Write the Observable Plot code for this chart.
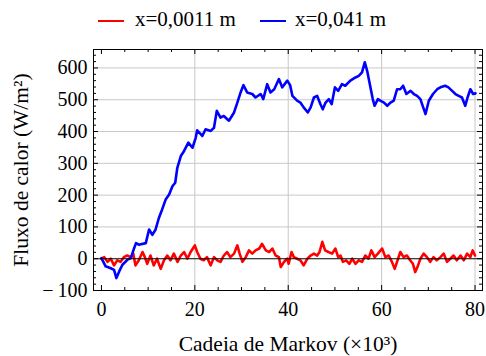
<!DOCTYPE html>
<html>
<head>
<meta charset="utf-8">
<script src="https://cdn.jsdelivr.net/npm/d3@7"></script>
<script src="https://cdn.jsdelivr.net/npm/@observablehq/plot@0.6"></script>
<style>
  html, body { margin: 0; padding: 0; background: #fff; }
  #wrap { width: 486px; font-family: "Liberation Serif", "DejaVu Serif", serif; }
  #legend { position: relative; width: 486px; height: 40px; }
  .sw { position: absolute; height: 1.5px; top: 20px; width: 26px; }
  .lt { position: absolute; top: 9px; font-size: 21px; line-height: 21px; white-space: nowrap; color: #000; font-family: "Liberation Serif", "DejaVu Serif", serif; }
  #chart svg, #chart svg text { font-family: "Liberation Serif", "DejaVu Serif", serif; }
</style>
</head>
<body>
<div id="wrap">
  <div id="legend"></div>
  <div id="chart"></div>
</div>
<script>
// Series labels and colours
const seriesNames = ["x=0,0011 m", "x=0,041 m"];
const seriesColors = ["#ff0000", "#0000ff"];

// Red series: x = 0,0011 m  (Markov chain index ×10³, heat flux W/m²)
const redX = [0,0.6,1.3,2.0,2.7,3.4,4.1,4.8,5.5,6.3,6.8,7.3,8.0,8.8,9.3,9.8,10.5,11.2,11.9,12.7,13.4,14.1,14.8,15.5,16.3,17.0,17.7,18.4,19.1,20.0,20.5,21.2,21.9,22.6,23.4,24.1,24.8,25.5,26.2,26.9,27.6,28.4,29.1,29.6,30.2,30.9,31.6,32.3,33.0,33.8,34.4,35.2,35.9,36.6,37.3,38.0,38.4,39.1,39.4,39.8,40.1,40.7,41.2,41.9,42.6,43.3,44.1,44.8,45.5,46.2,46.7,47.3,47.9,48.6,49.4,50.1,50.7,51.2,51.7,52.4,53.1,53.7,54.4,55.1,55.8,56.5,57.2,57.8,58.5,59.2,60.1,60.8,61.5,62.2,62.8,63.3,64.0,64.7,65.4,66.1,66.7,67.2,67.8,68.3,69.0,69.7,70.4,71.1,71.8,72.6,73.3,74.0,74.7,75.4,76.1,76.9,77.6,78.3,79.0,79.5,80.0];
const redY = [0,5,-10,0,-21,-5,-10,5,10,5,16,-21,-5,21,5,-16,10,-21,0,-32,-5,10,-5,16,-10,10,21,0,21,42,21,0,-5,5,-21,5,-5,-10,10,21,5,16,42,16,-10,5,26,16,26,32,47,26,21,32,10,5,-26,-10,-5,0,-16,21,5,0,-5,-21,0,10,16,10,21,53,26,21,16,32,5,10,-10,-5,-16,0,-16,-5,-10,10,0,26,5,16,32,5,10,-10,-32,-10,21,5,10,-5,-16,-42,-21,0,16,5,-10,5,-5,5,16,-10,0,10,-5,10,-5,16,5,26,10];

// Blue series: x = 0,041 m
const blueX = [0,0.9,2.0,2.7,3.2,3.8,4.5,5.6,6.3,7.0,7.4,8.0,9.5,10.2,10.9,11.6,12.3,13.0,13.75,14.5,15.2,15.8,16.25,17.0,17.7,18.6,19.5,20.2,20.5,21.6,22.3,23.4,24.1,24.7,25.5,26.2,27.3,28.4,29.1,29.8,30.4,31.2,32.3,33.0,34.1,34.65,35.5,36.2,37.0,38.0,38.7,39.8,40.4,40.9,41.9,42.6,43.3,44.2,44.8,45.5,46.2,46.9,47.4,48.0,48.7,49.3,50.0,50.7,51.5,52.2,53.3,54.4,55.1,55.8,56.4,56.9,57.4,58.1,58.5,59.2,59.7,60.5,61.2,61.9,62.6,63.3,64.0,64.6,65.3,66.2,66.9,67.6,68.3,68.9,69.4,70.1,71.0,71.9,72.6,73.6,74.3,75.1,75.8,76.5,77.2,77.9,78.4,79.0,79.6,80.1];
const blueY = [2,-24,-30,-35,-61,-40,-19,-3,2,33,49,44,49,92,75,92,128,155,186,202,228,239,286,323,339,365,349,381,404,386,407,402,412,465,444,449,434,460,491,523,546,523,518,507,518,502,549,523,533,565,539,560,546,512,497,491,476,460,476,507,512,486,470,491,502,486,539,528,549,544,560,570,575,586,618,591,554,502,481,502,497,491,481,491,497,533,533,544,518,528,518,512,502,476,455,497,518,533,539,544,539,528,518,512,507,481,507,533,518,520];

// Axis ticks
const xMajor = [0, 20, 40, 60, 80];
const xMinor = d3.range(0, 81, 5).filter(d => d % 20 !== 0);
const yMajor = [-100, 0, 100, 200, 300, 400, 500, 600];
const yMinor = d3.range(-100, 659, 20).filter(d => d % 100 !== 0);
const xGrid = [20, 40, 60, 80];
const yGrid = [100, 200, 300, 400, 500, 600];

const xLabel = "Cadeia de Markov (×10³)";
const yLabel = "Fluxo de calor (W/m²)";

// Legend (HTML, above the SVG)
const legend = document.getElementById("legend");
const legendPos = [{sw: 98, tx: 135}, {sw: 260, tx: 295}];
seriesNames.forEach((name, i) => {
  const s = document.createElement("div");
  s.className = "sw";
  s.style.left = legendPos[i].sw + "px";
  s.style.background = seriesColors[i];
  legend.appendChild(s);
  const t = document.createElement("div");
  t.className = "lt";
  t.style.left = legendPos[i].tx + "px";
  t.textContent = name;
  legend.appendChild(t);
});

const red = redX.map((x, i) => ({x, y: redY[i]}));
const blue = blueX.map((x, i) => ({x, y: blueY[i]}));

const W = 389, H = 241;
const FF = "Liberation Serif, DejaVu Serif, serif";

const chart = Plot.plot({
  width: 486,
  height: 316,
  marginLeft: 93,
  marginRight: 4,
  marginTop: 9,
  marginBottom: 66,
  style: {fontFamily: FF, fontSize: "20px", background: "#fff", color: "#000"},
  x: {domain: [-1.7, 81.6]},
  y: {domain: [-100, 658]},
  marks: [
    Plot.ruleX(xGrid, {stroke: "#c8c8c8", strokeWidth: 1}),
    Plot.ruleY(yGrid, {stroke: "#c8c8c8", strokeWidth: 1}),
    Plot.line(red, {x: "x", y: "y", stroke: seriesColors[0], strokeWidth: 2.6, strokeLinejoin: "round"}),
    Plot.line(blue, {x: "x", y: "y", stroke: seriesColors[1], strokeWidth: 2.6, strokeLinejoin: "round"}),
    Plot.ruleY([0], {stroke: "#000", strokeWidth: 1.1}),
    Plot.frame({stroke: "#000", strokeWidth: 1}),
    // inward ticks on all four sides
    Plot.tickX(xMajor, {x: d => d, insetTop: H - 5, stroke: "#000"}),
    Plot.tickX(xMajor, {x: d => d, insetBottom: H - 5, stroke: "#000"}),
    Plot.tickX(xMinor, {x: d => d, insetTop: H - 3, stroke: "#000"}),
    Plot.tickX(xMinor, {x: d => d, insetBottom: H - 3, stroke: "#000"}),
    Plot.tickY(yMajor, {y: d => d, insetRight: W - 5, stroke: "#000"}),
    Plot.tickY(yMajor, {y: d => d, insetLeft: W - 5, stroke: "#000"}),
    Plot.tickY(yMinor, {y: d => d, insetRight: W - 3, stroke: "#000"}),
    Plot.tickY(yMinor, {y: d => d, insetLeft: W - 3, stroke: "#000"}),
    // tick labels
    Plot.axisX({ticks: xMajor, tickSize: 0, tickPadding: 11, fontSize: 20, fontFamily: FF, label: null}),
    Plot.axisY({ticks: yMajor, tickSize: 0, tickPadding: 6, fontSize: 20, fontFamily: FF,
      tickFormat: d => d < 0 ? "−\u2009" + (-d) : String(d), label: null}),
    // axis titles (larger)
    Plot.axisX({ticks: [], tickSize: 0, fontSize: 21.5, fontFamily: FF,
      label: xLabel, labelAnchor: "center", labelOffset: 60, labelArrow: "none"}),
    Plot.axisY({ticks: [], tickSize: 0, fontSize: 21.5, fontFamily: FF,
      label: yLabel, labelAnchor: "center", labelOffset: 81, labelArrow: "none"})
  ]
});
document.getElementById("chart").appendChild(chart);
</script>
</body>
</html>
